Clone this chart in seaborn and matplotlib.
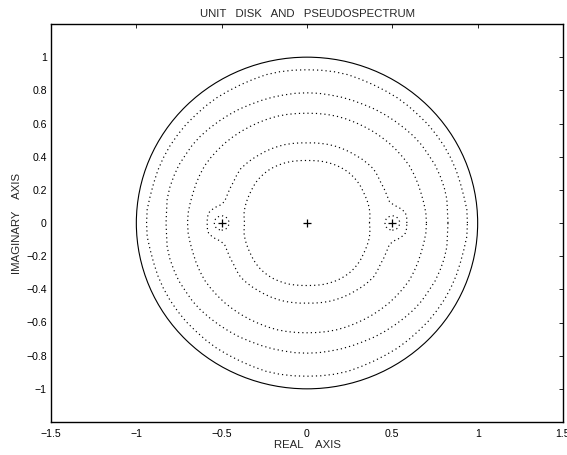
import numpy as np
import pandas as pd
import matplotlib
matplotlib.use("Agg")
import matplotlib.pyplot as plt
import seaborn as sns
from matplotlib.patches import Circle

# ---------------- data ----------------
eig_re = [-0.5, 0.0, 0.5]
eig_im = [0.0, 0.0, 0.0]

# pseudospectrum contour radii (first quadrant, angle in degrees; mirrored by symmetry)
angles_5deg = [0, 5, 10, 15, 20, 25, 30, 35, 40, 45, 50, 55, 60, 65, 70, 75, 80, 85, 90]

radii_A = [0.94, 0.94, 0.933, 0.93, 0.93, 0.929, 0.928, 0.926, 0.925, 0.922,
           0.922, 0.922, 0.92, 0.92, 0.922, 0.926, 0.926, 0.925, 0.924]

radii_B = [0.826, 0.826, 0.832, 0.832, 0.83, 0.828, 0.822, 0.82, 0.815, 0.808,
           0.802, 0.797, 0.793, 0.788, 0.786, 0.785, 0.784, 0.785, 0.785]

radii_C = [0.70, 0.699, 0.695, 0.692, 0.692, 0.692, 0.692, 0.688, 0.684, 0.681,
           0.677, 0.674, 0.671, 0.669, 0.668, 0.667, 0.665, 0.663, 0.662]

angles_D = [0, 3, 6, 8, 10, 12, 15, 20, 25, 30, 35, 40, 45, 50, 55, 60, 65, 70, 75, 80, 85, 90]
radii_D = [0.585, 0.585, 0.58, 0.565, 0.545, 0.52, 0.50, 0.497, 0.497, 0.497, 0.503,
           0.508, 0.505, 0.502, 0.498, 0.496, 0.494, 0.492, 0.49, 0.487, 0.485, 0.483]

radii_E = [0.366, 0.37, 0.374, 0.376, 0.377, 0.378, 0.38, 0.384, 0.387, 0.389,
           0.39, 0.39, 0.389, 0.387, 0.385, 0.383, 0.38, 0.378, 0.377]

small_loop_radius = 0.043   # tiny contour around the eigenvalues +-0.5
unit_radius = 1.0

x_ticks = [-1.5, -1.0, -0.5, 0.0, 0.5, 1.0, 1.5]
x_tick_labels = ["\u22121.5", "\u22121", "\u22120.5", "0", "0.5", "1", "1.5"]
y_ticks = [-1.0, -0.8, -0.6, -0.4, -0.2, 0.0, 0.2, 0.4, 0.6, 0.8, 1.0]
y_tick_labels = ["\u22121", "\u22120.8", "\u22120.6", "\u22120.4", "\u22120.2", "0",
                 "0.2", "0.4", "0.6", "0.8", "1"]


def full_contour(angles, radii, name):
    a = np.asarray(angles, float)
    r = np.asarray(radii, float)
    ang = np.concatenate([a, 180 - a[::-1], 180 + a, 360 - a[::-1]])
    rad = np.concatenate([r, r[::-1], r, r[::-1]])
    t = np.deg2rad(ang)
    return pd.DataFrame({"x": rad * np.cos(t), "y": rad * np.sin(t), "contour": name})


contours = pd.concat([
    full_contour(angles_5deg, radii_A, "A"),
    full_contour(angles_5deg, radii_B, "B"),
    full_contour(angles_5deg, radii_C, "C"),
    full_contour(angles_D, radii_D, "D"),
    full_contour(angles_5deg, radii_E, "E"),
], ignore_index=True)

# ---------------- style ----------------
sns.set_style("white")
plt.rcParams["font.family"] = ["Liberation Sans", "DejaVu Sans"]
plt.rcParams["axes.unicode_minus"] = True

fig = plt.figure(figsize=(5.67, 4.55), dpi=100)
ax = fig.add_axes([51 / 567, 33 / 455, 512 / 567, 398 / 455])

dot_style = (0, (1.0, 2.6))
for name, grp in contours.groupby("contour"):
    sns.lineplot(data=grp, x="x", y="y", sort=False, estimator=None, ax=ax,
                 color="black", linewidth=0.85, linestyle=dot_style)

for xc in [eig_re[0], eig_re[2]]:
    ax.add_patch(Circle((xc, 0.0), small_loop_radius, fill=False, edgecolor="black",
                        linewidth=0.85, linestyle=dot_style))

ax.add_patch(Circle((0.0, 0.0), unit_radius, fill=False, edgecolor="black", linewidth=0.8))

sns.scatterplot(x=eig_re, y=eig_im, marker="+", s=36, color="black", linewidth=0.9, ax=ax)

ax.set_xlim(-1.5, 1.5)
ax.set_ylim(-1.2, 1.2)
ax.set_xticks(x_ticks)
ax.set_xticklabels(x_tick_labels)
ax.set_yticks(y_ticks)
ax.set_yticklabels(y_tick_labels)
ax.tick_params(direction="in", top=True, right=True, length=3, width=0.6,
               labelsize=7.6, colors="black")
ax.tick_params(axis="x", pad=5)
ax.tick_params(axis="y", pad=3)
for sp in ax.spines.values():
    sp.set_color("black")
    sp.set_linewidth(1.0)

ax.set_title("UNIT   DISK   AND   PSEUDOSPECTRUM", fontsize=8.2, pad=5)
ax.set_xlabel("REAL    AXIS", fontsize=8.2, labelpad=1)
ax.set_ylabel("IMAGINARY    AXIS", fontsize=8.2, labelpad=3)

fig.savefig("out.png", dpi=100)
